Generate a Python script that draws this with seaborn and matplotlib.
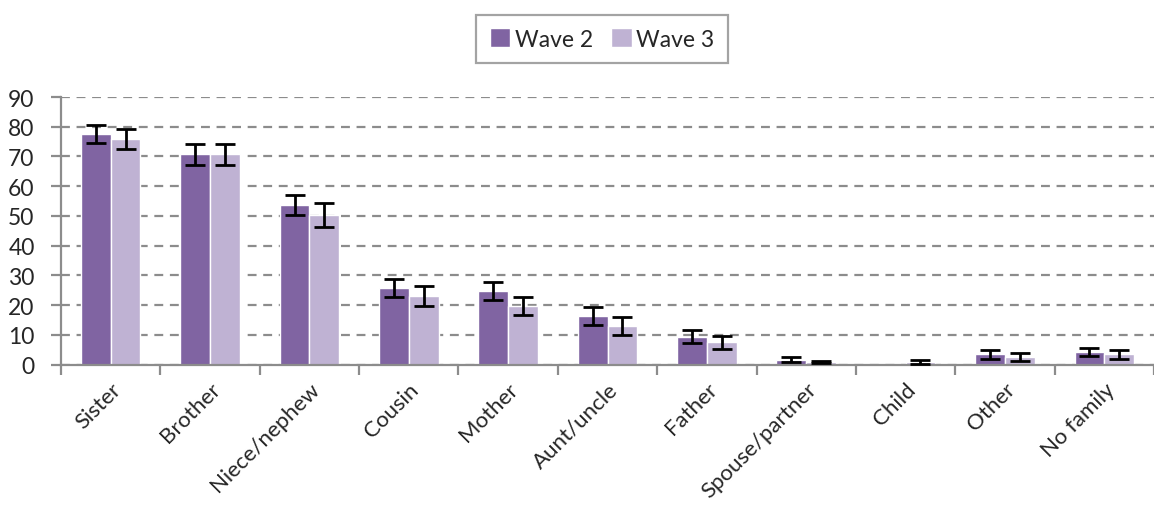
import numpy as np
import pandas as pd
import seaborn as sns
import matplotlib.pyplot as plt

categories = ["Sister", "Brother", "Niece/nephew", "Cousin", "Mother", "Aunt/uncle",
              "Father", "Spouse/partner", "Child", "Other", "No family"]
wave2 = [77.6, 70.7, 53.7, 25.7, 24.8, 16.3, 9.4, 1.7, 0.0, 3.5, 4.3]
wave2_err = [3.0, 3.5, 3.4, 3.0, 3.0, 3.0, 2.2, 0.9, 0.0, 1.5, 1.4]
wave3 = [75.9, 70.7, 50.3, 23.1, 19.6, 12.9, 7.6, 0.9, 0.9, 2.6, 3.5]
wave3_err = [3.3, 3.5, 3.9, 3.4, 3.0, 3.0, 2.2, 0.4, 0.7, 1.5, 1.5]

df = pd.DataFrame({
    "relation": categories * 2,
    "pct": wave2 + wave3,
    "wave": ["Wave 2"] * len(categories) + ["Wave 3"] * len(categories),
})

sns.set_style("white")
plt.rcParams["font.family"] = ["Lato", "DejaVu Sans"]

fig = plt.figure(figsize=(11.54, 5.10), dpi=100)
ax = fig.add_axes([61 / 1154, 1 - 365.7 / 510, 1093 / 1154, (365.7 - 98) / 510])

colors = {"Wave 2": "#8064A2", "Wave 3": "#BFB2D3"}
sns.barplot(data=df, x="relation", y="pct", hue="wave", palette=colors,
            errorbar=None, width=0.6, ax=ax, saturation=1, legend=True)

# error bars at bar centres (none where the value is zero)
for cont, errs in zip(ax.containers, [wave2_err, wave3_err]):
    pts = [(p.get_x() + p.get_width() / 2, p.get_height(), e)
           for p, e in zip(cont.patches, errs) if p.get_height() > 0]
    xs, hs, es = zip(*pts)
    ax.errorbar(xs, hs, yerr=es, fmt="none", ecolor="black",
                elinewidth=2, capsize=7, capthick=2, zorder=5)

ax.set_ylim(0, 90)
ax.set_xlim(-0.5, 10.4)
ax.set_yticks(range(0, 91, 10))
ax.yaxis.grid(True, linestyle=(0, (4, 3)), color="#8c8c8c", linewidth=1.6)
ax.set_axisbelow(True)
ax.set_xlabel("")
ax.set_ylabel("")

for s in ["top", "right"]:
    ax.spines[s].set_visible(False)
for s in ["left", "bottom"]:
    ax.spines[s].set_color("#8c8c8c")
    ax.spines[s].set_linewidth(1.6)

ax.set_xticks(np.arange(len(categories)))
ax.set_xticklabels(categories, rotation=45, ha="right", rotation_mode="anchor", fontsize=16)
ax.tick_params(axis="x", length=0, pad=10)
ax.set_xticks(np.arange(-0.5, len(categories), 1), minor=True)
ax.tick_params(axis="x", which="minor", length=7, width=1.6, color="#8c8c8c", bottom=True)
ax.tick_params(axis="y", labelsize=16.5, length=7, width=1.6, color="#8c8c8c", left=True, pad=12)

handles, labels = ax.get_legend_handles_labels()
ax.legend(handles, labels, loc="center", bbox_to_anchor=(602 / 1154, 1 - 40 / 510),
          bbox_transform=fig.transFigure, ncol=2, frameon=True, fancybox=False,
          edgecolor="#8c8c8c", fontsize=16.5, handlelength=0.9, handleheight=0.9,
          handletextpad=0.2, columnspacing=0.8, borderpad=0.6)
ax.get_legend().get_frame().set_linewidth(1.6)

fig.savefig("out.png", dpi=100)
